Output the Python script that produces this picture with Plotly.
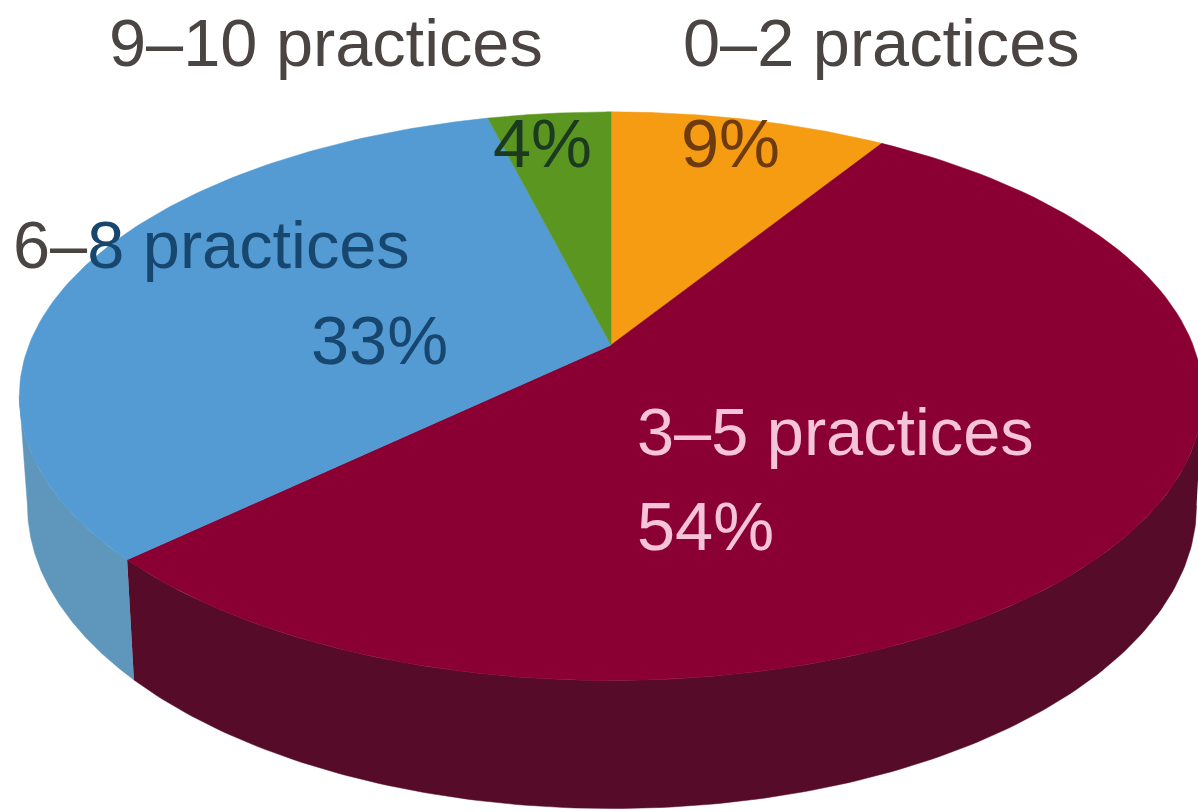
import numpy as np
import plotly.graph_objects as go

# Share of respondents by number of practices, clockwise from twelve o'clock
categories = ["0–2 practices", "3–5 practices", "6–8 practices", "9–10 practices"]
shares = [9, 54, 33, 4]
top_colors = ["#f59c12", "#8b0033", "#539bd2", "#5a9620"]
side_colors = ["#c07a10", "#560c28", "#5f96bb", "#47761a"]

# Tilted-disc projection of the unit circle
CX, CY = 611.0, 345.0
RX = 582.0
RY = 213.0
TILT = 0.18
SHRINK = 0.988
SHIFT = 1.0
DROP = 120.0
SEAM_Y = 558.0
DROP_SLOPE = 0.066
WIDTH, HEIGHT = 1198, 812


def project_disc(angle_deg):
    a = np.radians(angle_deg)
    u, v = np.sin(a), np.cos(a)
    w = 1 + TILT * v
    return CX + RX * u / w, (CY - RY * v) / w


def project_base(angle_deg):
    x, y = project_disc(angle_deg)
    return CX + SHIFT + SHRINK * (x - CX), y + DROP + DROP_SLOPE * (y - SEAM_Y)


fig = go.Figure()
ends = np.cumsum(shares) * 3.6
starts = ends - np.array(shares) * 3.6

# Only the front of the rim shows; it runs between the two silhouette angles
rim_from = np.degrees(np.arccos(-TILT))
rim_to = 360 - rim_from

for start, end, color, name in zip(starts, ends, side_colors, categories):
    lo, hi = max(start, rim_from), min(end, rim_to)
    if hi <= lo:
        continue
    arc = np.linspace(lo, hi, 160)
    tx, ty = project_disc(arc)
    bx, by = project_base(arc[::-1])
    fig.add_trace(go.Scatter(
        x=np.r_[tx, bx], y=np.r_[ty, by], mode="lines", fill="toself",
        fillcolor=color, line=dict(color=color, width=0.5),
        hoverinfo="skip", name=name))

# Top faces go over the rim
for start, end, color, name in zip(starts, ends, top_colors, categories):
    arc = np.linspace(start, end, 120)
    tx, ty = project_disc(arc)
    fig.add_trace(go.Scatter(
        x=np.r_[CX, tx, CX], y=np.r_[CY, ty, CY], mode="lines", fill="toself",
        fillcolor=color, line=dict(color=color, width=0.5), name=name))

FONT = "Liberation Sans, Arial, sans-serif"
SIZE = 66.7
PCT_SIZE = 68.5
GREY = "#4a4543"
NAVY = "#17466f"
PINK = "#f6c4d8"


def label(x, y, text, color, size=SIZE):
    fig.add_annotation(x=x, y=y, text=text, showarrow=False, xanchor="left",
                       yanchor="middle", xref="x", yref="y",
                       font=dict(family=FONT, size=size, color=color))


label(107, 43, categories[3], GREY)
label(681, 43, categories[0], GREY)
label(491, 143, f"{shares[3]}%", "#1b3a1f", PCT_SIZE)
label(679, 143, f"{shares[0]}%", "#6e3a10", PCT_SIZE)
label(11, 245, f"<span style='color:{GREY}'>6–</span>8 practices", NAVY)
label(309, 340, f"{shares[2]}%", NAVY, PCT_SIZE)
label(635, 432, categories[1], PINK)
label(635, 526, f"{shares[1]}%", PINK, PCT_SIZE)

fig.update_layout(
    width=WIDTH, height=HEIGHT, margin=dict(l=0, r=0, t=0, b=0),
    paper_bgcolor="white", plot_bgcolor="white", showlegend=False,
    xaxis=dict(range=[0, WIDTH], visible=False, fixedrange=True),
    yaxis=dict(range=[HEIGHT, 0], visible=False, fixedrange=True),
)
fig.write_html("out.html", config={"displayModeBar": False})
